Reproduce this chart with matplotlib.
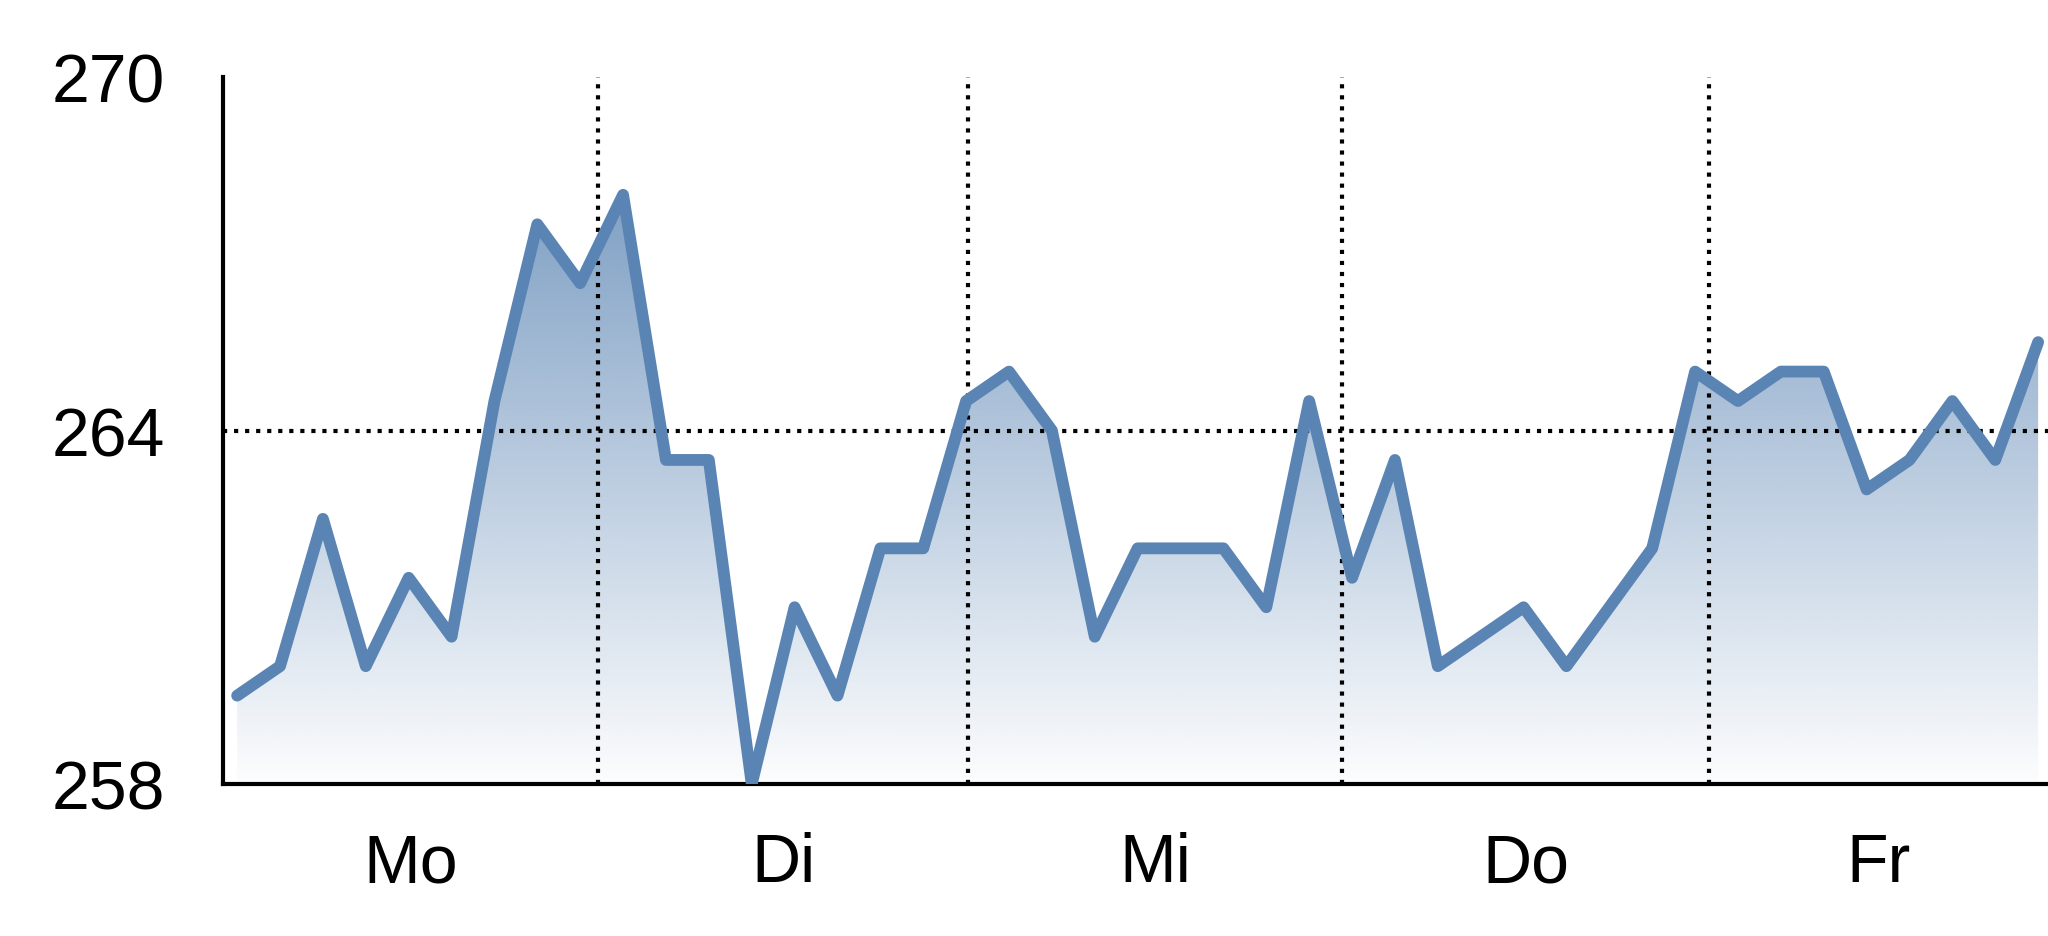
import matplotlib.pyplot as plt
import numpy as np
from matplotlib.colors import to_rgb
from matplotlib.patches import PathPatch

# Kursverlauf ueber die Woche
days = ['Mo', 'Di', 'Mi', 'Do', 'Fr']
prices = [259.5, 260, 262.5, 260, 261.5, 260.5, 264.5, 267.5, 266.5, 268,
          263.5, 263.5, 258, 261, 259.5, 262, 262, 264.5, 265, 264,
          260.5, 262, 262, 262, 261, 264.5, 261.5, 263.5, 260, 260.5,
          261, 260, 261, 262, 265, 264.5, 265, 265, 263, 263.5,
          264.5, 263.5, 265.5]
day_breaks = [8.42, 17.05, 25.77, 34.33]
y_ticks = [258, 264, 270]

plt.rcParams['font.family'] = ['Liberation Sans Narrow', 'Liberation Sans', 'DejaVu Sans']

line_color = '#5a84b3'
x = np.arange(len(prices))
x_lo, x_hi = -0.33, 42.23
y_lo, y_hi = 258, 270

fig = plt.figure(figsize=(20.48, 9.37), dpi=100)
ax = fig.add_axes([223 / 2048, 1 - 785 / 937, 1 - 223 / 2048, (785 - 78) / 937])

# gradient fill under the line
area = ax.fill_between(x, prices, y_lo, color='none', lw=0)
clip = PathPatch(area.get_paths()[0], transform=ax.transData, facecolor='none', edgecolor='none')
ax.add_patch(clip)
rgba = np.zeros((256, 1, 4))
rgba[..., :3] = to_rgb(line_color)
rgba[..., 3] = np.linspace(0.02, 0.92, 256)[:, None]
im = ax.imshow(rgba, extent=[x_lo, x_hi, y_lo, y_hi], origin='lower', aspect='auto', zorder=1)
im.set_clip_path(clip)

ax.plot(x, prices, color=line_color, lw=8.5, solid_joinstyle='round', solid_capstyle='round', zorder=3)

for b in day_breaks:
    ax.axvline(b, color='black', ls=':', lw=3, zorder=2)
ax.axhline(264, color='black', ls=':', lw=3, zorder=2)

ax.set_xlim(x_lo, x_hi)
ax.set_ylim(y_lo, y_hi)

edges = [x_lo] + day_breaks + [x_hi]
centers = [(edges[i] + edges[i + 1]) / 2 for i in range(len(days))]
ax.set_xticks(centers, days)
ax.set_yticks(y_ticks, [str(v) for v in y_ticks])
ax.tick_params(axis='both', length=0, labelsize=49)
ax.tick_params(axis='y', pad=42)
ax.tick_params(axis='x', pad=34)

for side in ['top', 'right']:
    ax.spines[side].set_visible(False)
for side in ['left', 'bottom']:
    ax.spines[side].set_linewidth(3)

fig.savefig('out.png', dpi=100)
